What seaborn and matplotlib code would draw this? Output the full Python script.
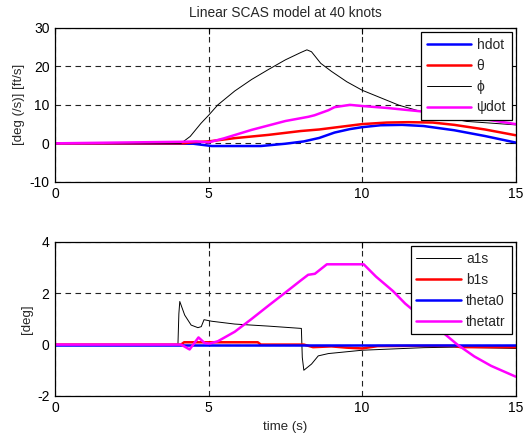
import pandas as pd
import seaborn as sns
import matplotlib
matplotlib.use("Agg")
import matplotlib.pyplot as plt

# ------------------------------
# Data
# ------------------------------
hdot_t = [0, 4.5, 5.1, 6.7, 7.5, 8.1, 8.6, 9.1, 9.6, 10.0, 10.6, 11.3, 12.0, 13.0, 14.0, 15.0]
hdot = [0, -0.1, -0.7, -0.7, -0.1, 0.5, 1.4, 2.8, 3.7, 4.2, 4.7, 4.8, 4.5, 3.4, 1.9, 0.2]

theta_t = [0, 4.2, 4.5, 5.0, 5.85, 6.95, 8.0, 8.6, 9.5, 10.0, 10.8, 11.5, 12.3, 13.0, 14.0, 15.0]
theta = [0, 0, 0.3, 0.5, 1.35, 2.2, 3.2, 3.6, 4.5, 5.0, 5.4, 5.5, 5.4, 4.8, 3.6, 2.1]

phi_t = [0, 4.1, 4.4, 4.75, 5.0, 5.3, 5.85, 6.4, 6.95, 7.5, 8.0, 8.2, 8.35, 8.65,
         9.0, 9.5, 10.0, 11.2, 12.3, 13.4, 15.0]
phi = [0, 0, 1.8, 5.2, 7.3, 10.0, 13.6, 16.6, 19.2, 21.7, 23.6, 24.3, 23.8, 20.8,
       18.7, 16.0, 13.8, 9.9, 7.4, 5.7, 4.8]

psidot_t = [0, 4.1, 4.6, 5.0, 5.5, 6.4, 7.5, 8.25, 8.45, 8.9, 9.1, 9.6, 10.0, 10.8,
            11.8, 12.8, 13.8, 14.6, 15.0]
psidot = [0, 0.4, 0.5, 0.25, 1.3, 3.5, 5.8, 6.9, 7.3, 8.6, 9.4, 10.0, 9.7, 9.2,
          8.4, 7.6, 6.5, 5.5, 5.0]

a1s_t = [0, 4.0, 4.03, 4.06, 4.22, 4.43, 4.65, 4.76, 4.85, 5.1, 5.85, 6.95, 8.02,
         8.05, 8.1, 8.35, 8.57, 8.9, 10.0, 12.0, 13.0, 15.0]
a1s = [0, 0, 1.2, 1.68, 1.15, 0.76, 0.66, 0.7, 0.97, 0.91, 0.8, 0.72, 0.63,
       -0.5, -1.0, -0.76, -0.44, -0.35, -0.22, -0.12, -0.1, -0.15]

b1s_t = [0, 4.1, 4.2, 6.6, 6.7, 8.1, 8.4, 9.0, 9.5, 10.0, 10.5, 11.5, 13.0, 13.2, 15.0]
b1s = [0, 0, 0.09, 0.09, 0.0, 0.0, -0.1, -0.07, -0.12, -0.15, -0.06, -0.05, -0.05, -0.1, -0.1]

theta0_t = [0, 15.0]
theta0 = [0, 0]

thetatr_t = [0, 4.1, 4.38, 4.67, 4.87, 5.03, 5.3, 5.85, 6.4, 6.95, 7.5, 8.0, 8.24,
             8.46, 8.85, 10.05, 10.45, 11.0, 11.4, 11.9, 12.5, 13.1, 13.65, 14.2, 15.0]
thetatr = [0, 0, -0.19, 0.28, 0.06, 0.04, 0.13, 0.5, 1.0, 1.52, 2.03, 2.5, 2.72,
           2.76, 3.13, 3.13, 2.65, 2.09, 1.6, 1.1, 0.6, 0.0, -0.46, -0.83, -1.25]

top_ticks = [-10, 0, 10, 20, 30]
bottom_ticks = [-2, 0, 2, 4]
x_ticks = [0, 5, 10, 15]

# ------------------------------
# Style
# ------------------------------
sns.set_style("white")
plt.rcParams["font.family"] = ["Liberation Sans", "DejaVu Sans"]
plt.rcParams["font.size"] = 8.5
plt.rcParams["axes.unicode_minus"] = False

fig = plt.figure(figsize=(5.3, 4.36), dpi=100)
ax1 = fig.add_axes([0.104, 0.583, 0.869, 0.353])
ax2 = fig.add_axes([0.104, 0.092, 0.869, 0.353])


def draw(ax, t, y, color, lw, label):
    df = pd.DataFrame({"t": t, "y": y})
    sns.lineplot(data=df, x="t", y="y", ax=ax, color=color, lw=lw,
                 label=label, estimator=None, sort=False)


draw(ax1, hdot_t, hdot, "#0000ff", 1.8, "hdot")
draw(ax1, theta_t, theta, "#ff0000", 1.8, "θ")
draw(ax1, phi_t, phi, "black", 0.7, "ϕ")
draw(ax1, psidot_t, psidot, "#ff00ff", 1.8, "ψdot")

draw(ax2, a1s_t, a1s, "black", 0.7, "a1s")
draw(ax2, b1s_t, b1s, "#ff0000", 1.8, "b1s")
draw(ax2, theta0_t, theta0, "#0000ff", 1.8, "theta0")
draw(ax2, thetatr_t, thetatr, "#ff00ff", 1.8, "thetatr")

for ax, yt in [(ax1, top_ticks), (ax2, bottom_ticks)]:
    ax.set_xlim(0, 15)
    ax.set_ylim(yt[0], yt[-1])
    ax.set_xticks(x_ticks)
    ax.set_yticks(yt)
    ax.grid(True, color="#222222", linestyle=(0, (5, 4)), lw=0.8)
    ax.tick_params(direction="in", length=4, top=True, right=True,
                   labelsize=10, pad=4, colors="black")
    for s in ax.spines.values():
        s.set_color("black")
        s.set_linewidth(0.9)
    leg = ax.legend(loc="upper right", fontsize=10, handlelength=3.2,
                    fancybox=False, framealpha=1, borderaxespad=0.3,
                    labelspacing=0.5, handletextpad=0.4)
    leg.get_frame().set_edgecolor("black")
    leg.get_frame().set_linewidth(0.9)

ax1.set_xlabel("")
ax1.set_ylabel("[deg (/s)] [ft/s]", fontsize=9.5, labelpad=3)
ax1.set_title("Linear SCAS model at 40 knots", fontsize=9.9, pad=8)
ax2.set_xlabel("time (s)", fontsize=9.5)
ax2.set_ylabel("[deg]", fontsize=9.5, labelpad=3)

fig.savefig("out.png", dpi=100)
